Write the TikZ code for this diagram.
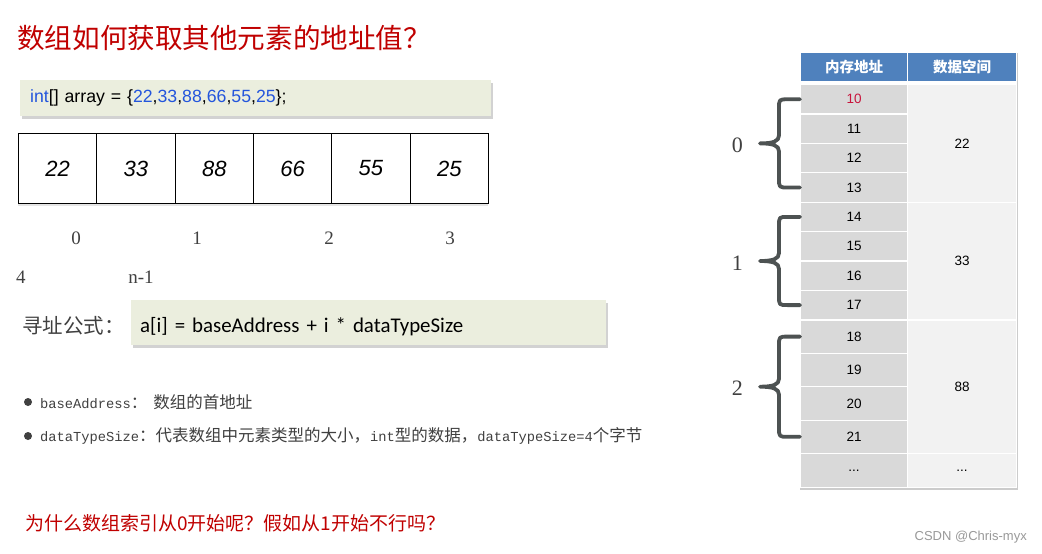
\documentclass[tikz,border=0pt]{standalone}
\usepackage{fontspec}
\setmainfont{Liberation Serif}
\newfontfamily\cjkfont{Noto Sans CJK SC}[Kerning=Off]
\newfontfamily\arialfont{Liberation Sans}
\newfontfamily\calibrifont{Carlito}
\newfontfamily\monofont{Liberation Mono}
\usetikzlibrary{positioning,shadows,calc}

\definecolor{titlered}{RGB}{192,0,0}
\definecolor{boxgreen}{RGB}{235,238,222}
\definecolor{numblue}{RGB}{35,85,220}
\definecolor{headblue}{RGB}{79,129,189}
\definecolor{addrgray}{RGB}{217,217,217}
\definecolor{datagray}{RGB}{242,242,242}
\definecolor{bracegray}{RGB}{77,82,82}
\definecolor{textgray}{RGB}{64,64,64}
\definecolor{firstred}{RGB}{200,20,60}

% curly brace from the west side of one row to the west side of another
\newcommand\addrbrace[3]{%
    \draw[bracestroke] let \p1=(#1.west), \p2=(#2.west), \p3=($(#1.west)!0.5!(#2.west)$) in
        (\p1) -- (\x1-12pt,\y1)
        .. controls (\x1-21pt,\y1) and (\x1-21pt,\y1) .. (\x1-21pt,\y1-9pt)
        -- (\x1-21pt,\y3+8pt)
        .. controls (\x1-21pt,\y3+2pt) and (\x1-27pt,\y3) .. (\x1-40pt,\y3)
        node[bracelbl, left=12pt, yshift=-2pt] {#3}
        .. controls (\x1-27pt,\y3) and (\x1-21pt,\y3-2pt) .. (\x1-21pt,\y3-8pt)
        -- (\x1-21pt,\y2+9pt)
        .. controls (\x1-21pt,\y2) and (\x1-21pt,\y2) .. (\x1-12pt,\y2) -- (\p2);
}

\begin{document}
\begin{tikzpicture}[x=1pt,y=-1pt,
    cellbox/.style={draw=black, line width=0.9pt, fill=white, minimum width=78.3pt,
        minimum height=70pt, anchor=north west, inner sep=0pt,
        font=\arialfont\itshape\fontsize{22}{24}\selectfont},
    idxlbl/.style={text=textgray, font=\fontsize{19}{22}\selectfont},
    greenbox/.style={fill=boxgreen, anchor=north west, align=left,
        drop shadow={shadow xshift=2pt, shadow yshift=-3pt, opacity=0.35}},
    headcell/.style={fill=headblue, draw=white, line width=1.2pt, anchor=north west,
        inner sep=0pt, minimum height=29pt, text=white,
        font=\cjkfont\bfseries\fontsize{14.5}{16}\selectfont},
    addrcell/.style={fill=addrgray, draw=white, line width=1.2pt, anchor=north west,
        inner sep=0pt, minimum width=107pt, font=\arialfont\fontsize{13.5}{15}\selectfont},
    datacell/.style={fill=datagray, draw=white, line width=1.2pt, anchor=north west,
        inner sep=0pt, minimum width=109pt, font=\arialfont\fontsize{13.5}{15}\selectfont},
    bracestroke/.style={draw=bracegray, line width=3.8pt, line cap=round, line join=round},
    bracelbl/.style={text=textgray, font=\fontsize{22}{24}\selectfont},
    bulletdot/.style={fill=textgray},
    bullettxt/.style={anchor=west, inner sep=0pt, text=textgray,
        font=\cjkfont\fontsize{16.5}{18}\selectfont},
]
\useasboundingbox[fill=white] (0,0) rectangle (1042,554);

% title
\node[anchor=west, inner sep=0pt, text=titlered, font=\cjkfont\fontsize{27.6}{30}\selectfont]
    (title) at (17,38) {数组如何获取其他元素的地址值？};

% declaration
\node[greenbox, minimum width=471pt, minimum height=36pt, text width=451pt, inner xsep=10pt,
      font=\arialfont\fontsize{17.7}{20}\selectfont] (code) at (20,80)
    {{\color{numblue}int}[] array = \{{\color{numblue}22},{\color{numblue}33},{\color{numblue}88},{\color{numblue}66},{\color{numblue}55},{\color{numblue}25}\};};

% the array cells
\path[fill=white, drop shadow={shadow xshift=0pt, shadow yshift=-3pt, opacity=0.2}]
    (18,133) rectangle (488,203);
\foreach \v [count=\k] in {22,33,88,66,55,25} {
    \node[cellbox] (c\k) at ({18+78.33*(\k-1)},133) {\v};
}

% index labels
\node[idxlbl] (i0) at (76,238) {0};
\node[idxlbl] (i1) at (197,238) {1};
\node[idxlbl] (i2) at (329,238) {2};
\node[idxlbl] (i3) at (450,238) {3};
\node[idxlbl] (i4) at (21,277) {4};
\node[idxlbl] (in) at (141,277) {n-1};

% formula
\node[anchor=west, inner sep=0pt, text=textgray, font=\cjkfont\fontsize{20.5}{24}\selectfont]
    (formlbl) at (22,326) {寻址公式：};
\node[greenbox, minimum width=475pt, minimum height=45pt, text width=457pt, inner xsep=9pt,
      text height=23pt, text depth=3pt,
      font=\calibrifont\fontsize{20.9}{24}\selectfont] (formula) at (131,300)
    {a[i] = baseAddress + i * dataTypeSize};

% notes
\fill[bulletdot] (28,402) circle[radius=4];
\node[bullettxt] (note1) at (40,402)
    {{\monofont\fontsize{13.75}{18}\selectfont baseAddress}：\hspace{6pt}数组的首地址};
\fill[bulletdot] (28,436) circle[radius=4];
\node[bullettxt] (note2) at (40,436)
    {{\monofont\fontsize{13.75}{18}\selectfont dataTypeSize}：代表数组中元素类型的大小，{\monofont\fontsize{13.75}{18}\selectfont int}型的数据，{\monofont\fontsize{13.75}{18}\selectfont dataTypeSize=4}个字节};

% question
\node[anchor=west, inner sep=0pt, text=titlered, font=\cjkfont\fontsize{19}{22}\selectfont]
    (question) at (25,523) {为什么数组索引从0开始呢？假如从1开始不行吗？};

% memory table
\path[fill=white, drop shadow={shadow xshift=1pt, shadow yshift=-2pt, opacity=0.4}]
    (799,51) rectangle (1017,488);
\node[headcell, minimum width=107pt] (haddr) at (800,52) {内存地址};
\node[headcell, minimum width=109pt] (hdata) at (907,52) {数据空间};

\node[addrcell, minimum height=29.4pt, text=firstred] (m10) at (800,84) {10};
\foreach \k in {1,...,7} {
    \pgfmathtruncatemacro\addr{10+\k}
    \node[addrcell, minimum height=29.4pt] (m\addr) at (800,{84+29.4*\k}) {\addr};
}
\foreach \k in {0,...,3} {
    \pgfmathtruncatemacro\addr{18+\k}
    \node[addrcell, minimum height=33.4pt] (m\addr) at (800,{319.3+33.4*\k}) {\addr};
}
\node[addrcell, minimum height=34pt] (mdots) at (800,453) {...};

\node[datacell, minimum height=117.6pt] (v22) at (907,84) {22};
\node[datacell, minimum height=117.6pt] (v33) at (907,201.6) {33};
\node[datacell, minimum height=133.7pt] (v88) at (907,319.3) {88};
\node[datacell, minimum height=34pt] (vdots) at (907,453) {...};

% braces for the array indices
\addrbrace{m10}{m13}{0}
\addrbrace{m14}{m17}{1}
\addrbrace{m18}{m21}{2}

% watermark
\node[anchor=east, inner sep=0pt, text=black!40, font=\arialfont\fontsize{13}{15}\selectfont]
    (mark) at (1027,537) {CSDN @Chris-myx};
\end{tikzpicture}
\end{document}
